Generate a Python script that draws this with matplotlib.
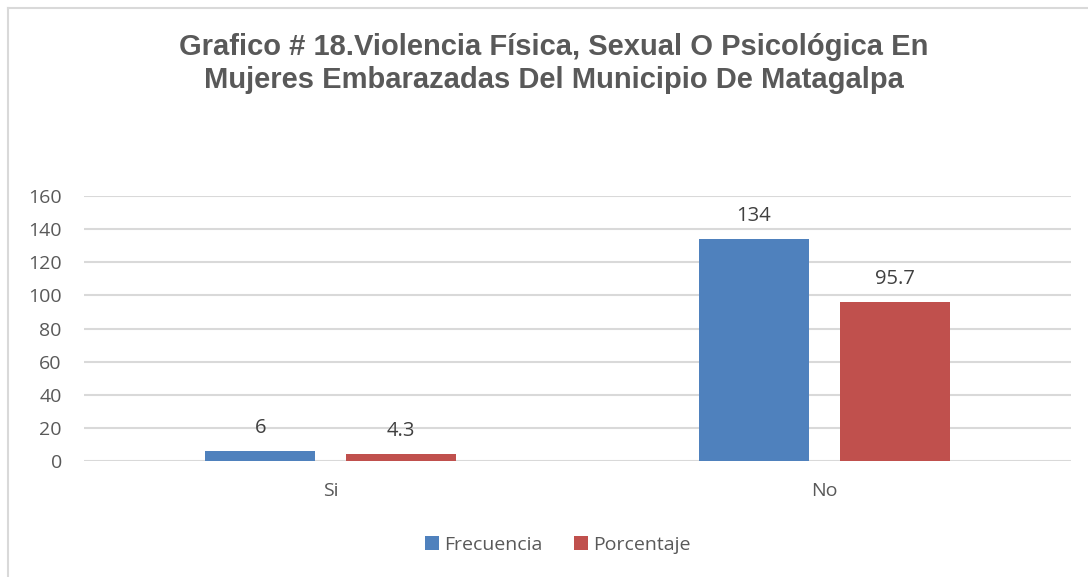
import matplotlib
matplotlib.use("Agg")
import matplotlib.pyplot as plt
from matplotlib.lines import Line2D
from matplotlib.patches import Patch
import numpy as np

categories = ["Si", "No"]
frecuencia = [6, 134]
porcentaje = [4.3, 95.7]
series_names = ["Frecuencia", "Porcentaje"]
yticks = [0, 20, 40, 60, 80, 100, 120, 140, 160]

title = ("Grafico # 18.Violencia Física, Sexual O Psicológica En\n"
         "Mujeres Embarazadas Del Municipio De Matagalpa")

blue = "#4F81BD"
red = "#C0504D"
grid = "#D9D9D9"
text_gray = "#595959"
label_gray = "#404040"

plt.rcParams["font.family"] = ["Open Sans", "DejaVu Sans"]

fig = plt.figure(figsize=(10.88, 5.77), dpi=100)
W, H = 1088, 577

# chart area border: only the left and top edges are inside the picture
bx, by = 7.5 / W, 1 - 7.5 / H
fig.lines.append(Line2D([bx, bx], [0, by], transform=fig.transFigure,
                        color=grid, linewidth=1.5))
fig.lines.append(Line2D([bx, 1], [by, by], transform=fig.transFigure,
                        color=grid, linewidth=1.5))

ax = fig.add_axes([84 / W, 1 - 461 / H, (1071 - 84) / W, (461 - 196) / H])

x = np.arange(len(categories))
width = 0.223
offset = 0.143
b1 = ax.bar(x - offset, frecuencia, width, color=blue, label=series_names[0])
b2 = ax.bar(x + offset, porcentaje, width, color=red, label=series_names[1])

ax.bar_label(b1, labels=[f"{v:g}" for v in frecuencia], padding=9.5,
             fontsize=14.5, color=label_gray)
ax.bar_label(b2, labels=[f"{v:g}" for v in porcentaje], padding=9.5,
             fontsize=14.5, color=label_gray)

ax.set_xlim(-0.5, 1.5)
ax.set_ylim(0, 160)
ax.set_yticks(yticks)
ax.set_xticks(x)
ax.set_xticklabels(categories)
ax.tick_params(axis="both", length=0, labelsize=14, labelcolor=text_gray)
ax.tick_params(axis="y", pad=16)
ax.tick_params(axis="x", pad=15)
ax.yaxis.grid(True, color=grid, linewidth=1.5)
ax.set_axisbelow(True)
for s in ax.spines.values():
    s.set_visible(False)

fig.text(554 / W, 1 - 63.5 / H, title, ha="center", va="center",
         fontsize=21, fontweight="bold", color=text_gray,
         family=["Liberation Sans", "DejaVu Sans"], linespacing=1.25)

handles = [Patch(facecolor=blue), Patch(facecolor=red)]
fig.legend(handles, series_names, loc="center", ncol=2,
           bbox_to_anchor=(558 / W, 1 - 545 / H), frameon=False,
           fontsize=14, labelcolor=text_gray, handlelength=0.7,
           handleheight=0.7, handletextpad=0.3, columnspacing=1.6)

fig.savefig("out.png", dpi=100)
